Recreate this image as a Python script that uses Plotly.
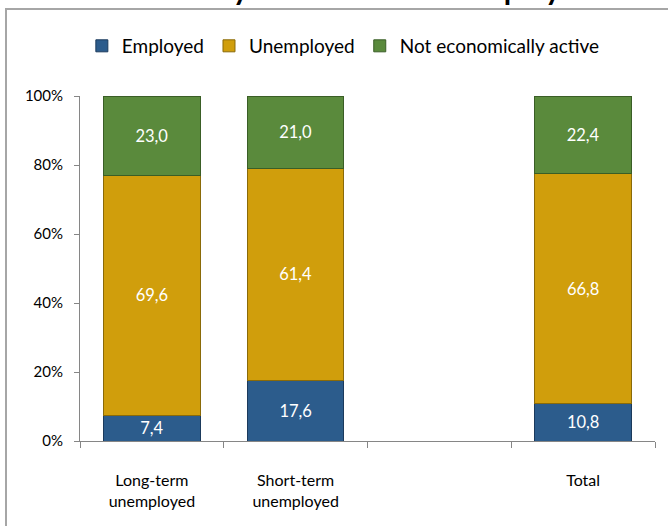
import plotly.graph_objects as go

# Categories (third slot is an intentional empty gap on the axis)
categories = ["Long-term<br>unemployed", "Short-term<br>unemployed", " ", "Total"]

# Shares (%) by activity status
employed = [7.4, 17.6, None, 10.8]
unemployed = [69.6, 61.4, None, 66.8]
not_active = [23.0, 21.0, None, 22.4]

series_names = ["Employed", "Unemployed", "Not economically active"]
y_ticks = [0, 20, 40, 60, 80, 100]
y_tick_labels = ["0%", "20%", "40%", "60%", "80%", "100%"]

colors = ["#2C5C8C", "#D09E0C", "#5A8A3C"]
edges = ["#1B3A5C", "#8A6A08", "#3A5E26"]

FONT = "Lato, Liberation Sans, sans-serif"

fig = go.Figure()
for name, vals, c, e in zip(series_names, [employed, unemployed, not_active], colors, edges):
    fig.add_trace(go.Bar(
        x=categories,
        y=vals,
        name=name,
        marker=dict(color=c, line=dict(color=e, width=1)),
        texttemplate="%{y:.1f}",
        textposition="inside",
        insidetextanchor="middle",
        textangle=0,
        constraintext="none",
        textfont=dict(color="white", size=16.5, family=FONT),
        hoverinfo="skip",
    ))

# Chart frame
fig.add_shape(type="rect", xref="paper", yref="paper",
              x0=-0.1287, x1=1.2, y0=-0.4, y1=1.2522,
              line=dict(color="#A6A6A6", width=2), layer="below")

# Chart title
fig.add_annotation(text="<b>Activity status of the unemployed</b>",
                   xref="paper", yref="paper", x=0.501, y=1.255,
                   xanchor="center", yanchor="bottom", showarrow=False,
                   font=dict(size=30, color="black", family=FONT))

fig.update_layout(
    width=668, height=526,
    margin=dict(l=80, r=13, t=96, b=85),
    barmode="stack",
    bargap=0.33,
    separators=",.",
    paper_bgcolor="white",
    plot_bgcolor="white",
    font=dict(family=FONT, color="black"),
    showlegend=True,
    legend=dict(orientation="h", x=0.458, y=1.145, xanchor="center", yanchor="middle",
                font=dict(size=19, family=FONT), itemwidth=30, traceorder="normal",
                bgcolor="rgba(0,0,0,0)"),
    xaxis=dict(
        categoryorder="array", categoryarray=categories,
        showline=True, linecolor="#868686", linewidth=1,
        ticks="outside", tickson="boundaries", ticklen=6, tickcolor="#868686",
        tickfont=dict(size=16, family=FONT),
        ticklabelstandoff=25,
        showgrid=False, fixedrange=True,
    ),
    yaxis=dict(
        range=[0, 100], tickmode="array", tickvals=y_ticks, ticktext=y_tick_labels,
        showline=True, linecolor="#868686", linewidth=1,
        ticks="outside", ticklen=5, tickcolor="#868686",
        tickfont=dict(size=15, family=FONT),
        ticklabelstandoff=8,
        showgrid=False, zeroline=False, fixedrange=True,
    ),
)

fig.write_html("out.html")
